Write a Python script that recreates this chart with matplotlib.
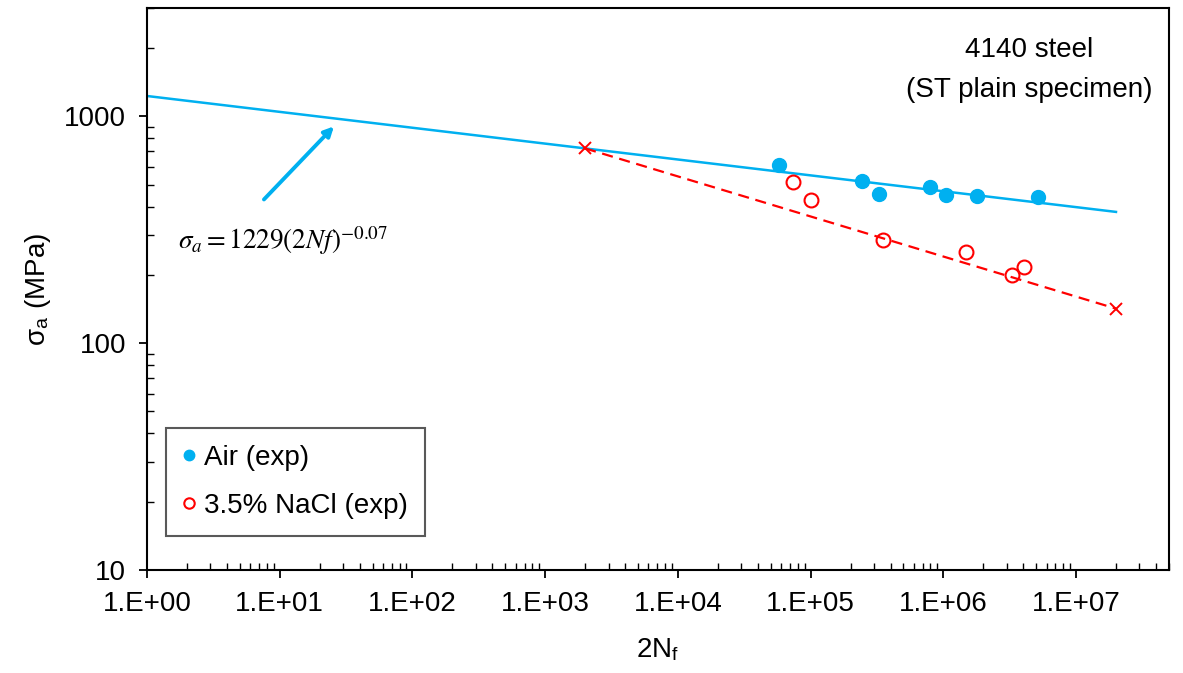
import matplotlib
matplotlib.use('Agg')
import matplotlib.pyplot as plt
import numpy as np
from matplotlib.ticker import FixedLocator, FuncFormatter, LogLocator, NullFormatter

plt.rcParams['font.family'] = ['Liberation Sans', 'DejaVu Sans']
plt.rcParams['mathtext.fontset'] = 'stix'

air_n = [5.74e4, 2.42e5, 3.30e5, 7.96e5, 1.05e6, 1.79e6, 5.15e6]
air_s = [608, 517, 453, 486, 448, 444, 439]

nacl_n = [7.38e4, 1.0e5, 3.53e5, 1.48e6, 3.32e6, 4.03e6]
nacl_s = [516, 427, 284, 252, 199, 217]

# fitted lines (end points)
air_fit_n = [1, 2e7]
air_fit_s = [1229, 379]
nacl_fit_n = [2e3, 2e7]
nacl_fit_s = [722, 142]

x_ticks = [1e0, 1e1, 1e2, 1e3, 1e4, 1e5, 1e6, 1e7]
y_ticks = [10, 100, 1000]

blue = '#00B0F0'
red = '#FF0000'

fig = plt.figure(figsize=(11.83, 6.73), dpi=100)
ax = fig.add_axes([0.1243, 0.153, 0.8637, 0.835])

ax.plot(air_fit_n, air_fit_s, color=blue, lw=1.8, zorder=2)
ax.plot(nacl_fit_n, nacl_fit_s, color=red, lw=1.6, ls=(0, (5, 3)),
        marker='x', ms=8, mew=1.4, zorder=2)

ax.plot(air_n, air_s, ls='none', marker='o', ms=10, color=blue,
        mec=blue, label='Air (exp)', zorder=3)
ax.plot(nacl_n, nacl_s, ls='none', marker='o', ms=10, mfc='none',
        mec=red, mew=1.5, label='3.5% NaCl (exp)', zorder=3)

ax.set_xscale('log')
ax.set_yscale('log')
ax.set_xlim(1, 5e7)
ax.set_ylim(10, 3000)

ax.xaxis.set_major_locator(FixedLocator(x_ticks))
ax.xaxis.set_major_formatter(FuncFormatter(lambda v, p: '1.E+%02d' % int(round(np.log10(v)))))
ax.xaxis.set_minor_locator(LogLocator(base=10, subs=np.arange(2, 10), numticks=20))
ax.xaxis.set_minor_formatter(NullFormatter())
ax.yaxis.set_major_locator(FixedLocator(y_ticks))
ax.yaxis.set_major_formatter(FuncFormatter(lambda v, p: '%d' % v))
ax.yaxis.set_minor_locator(LogLocator(base=10, subs=np.arange(2, 10), numticks=20))
ax.yaxis.set_minor_formatter(NullFormatter())

ax.tick_params(which='major', direction='out', length=6, width=1.3,
               labelsize=20, pad=9)
ax.tick_params(which='minor', direction='in', length=5, width=1.0)
for s in ax.spines.values():
    s.set_linewidth(1.5)

ax.set_xlabel('2N$_\\mathregular{f}$', fontsize=20, labelpad=14)
ax.set_ylabel('σ$_\\mathregular{a}$ (MPa)', fontsize=20, labelpad=8)

ax.text(0.863, 0.948, '4140 steel\n(ST plain specimen)', transform=ax.transAxes,
        ha='center', va='top', fontsize=20, linespacing=1.7)

ax.text(1.72, 284, r'$\sigma_a{=}1229(2Nf)^{-0.07}$', fontsize=19.5,
        ha='left', va='center')
ax.annotate('', xy=(25.6, 903), xytext=(7.6, 430),
            arrowprops=dict(arrowstyle='-|>', color=blue, lw=2.8,
                            mutation_scale=14, shrinkA=0, shrinkB=0))

leg = ax.legend(loc='lower left', bbox_to_anchor=(0.0186, 0.0605),
                borderaxespad=0, fontsize=20, fancybox=False, framealpha=1,
                edgecolor='#595959', handlelength=0.4, handletextpad=0.35,
                labelspacing=0.78, markerscale=0.75, borderpad=0.62)
leg.get_frame().set_linewidth(1.5)

plt.savefig('out.png', dpi=100)
